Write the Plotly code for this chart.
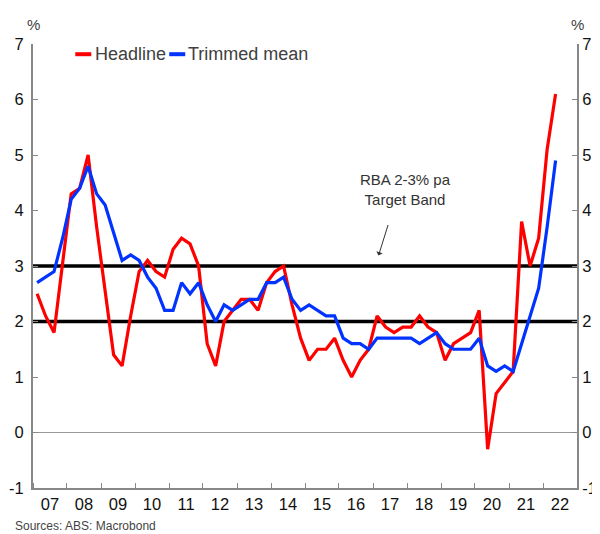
import pandas as pd
import plotly.graph_objects as go

# Quarterly, 2007 Q1 .. 2022 Q2, year-ended % change
quarters = pd.period_range("2007Q1", "2022Q2", freq="Q")
headline = [2.5, 2.1, 1.8, 3.0, 4.3, 4.4, 5.0, 3.7, 2.5, 1.4,
            1.2, 2.1, 2.9, 3.1, 2.9, 2.8, 3.3, 3.5, 3.4, 3.0,
            1.6, 1.2, 2.0, 2.2, 2.4, 2.4, 2.2, 2.7, 2.9, 3.0,
            2.3, 1.7, 1.3, 1.5, 1.5, 1.7, 1.3, 1.0, 1.3, 1.5,
            2.1, 1.9, 1.8, 1.9, 1.9, 2.1, 1.9, 1.8, 1.3, 1.6,
            1.7, 1.8, 2.2, -0.3, 0.7, 0.9, 1.1, 3.8, 3.0, 3.5,
            5.1, 6.1]
trimmed_mean = [2.7, 2.8, 2.9, 3.5, 4.2, 4.4, 4.8, 4.3, 4.1, 3.6,
                3.1, 3.2, 3.1, 2.8, 2.6, 2.2, 2.2, 2.7, 2.5, 2.7,
                2.3, 2.0, 2.3, 2.2, 2.3, 2.4, 2.4, 2.7, 2.7, 2.8,
                2.4, 2.2, 2.3, 2.2, 2.1, 2.1, 1.7, 1.6, 1.6, 1.5,
                1.7, 1.7, 1.7, 1.7, 1.7, 1.6, 1.7, 1.8, 1.6, 1.5,
                1.5, 1.5, 1.7, 1.2, 1.1, 1.2, 1.1, 1.6, 2.1, 2.6,
                3.7, 4.9]
band = [2, 3]
y_ticks = [-1, 0, 1, 2, 3, 4, 5, 6, 7]
y_labels = ["-1", "0", "1", "2", "3", "4", "5", "6", "7"]
series_names = ["Headline", "Trimmed mean"]
series_colors = ["#ff0000", "#0033ff"]

# plot each quarter at the middle of the quarter
dates = [(q.start_time + (q.end_time - q.start_time) / 2).strftime("%Y-%m-%d") for q in quarters]

FONT = "Liberation Sans, Arial, sans-serif"
TXT = "#111111"
LEG = "#404040"
AX = "#888888"

fig = go.Figure()
for vals, name, col in zip([headline, trimmed_mean], series_names, series_colors):
    fig.add_trace(go.Scatter(x=dates, y=vals, name=name, mode="lines",
                             line=dict(color=col, width=3.2), showlegend=False))
fig.add_trace(go.Scatter(x=dates[:1], y=headline[:1], yaxis="y2", mode="none",
                         showlegend=False, hoverinfo="skip"))

for b in band:
    fig.add_shape(type="line", xref="paper", x0=0, x1=1, yref="y", y0=b, y1=b,
                  line=dict(color="black", width=3.5), layer="below")

# legend (short swatches + labels), top-left inside plot
W = 544.3
H = 444.0
def px(sx):
    return (sx - 32.7) / W
def py(sy):
    return (487.8 - sy) / H

leg_y = py(54)
sw_left = [75, 169]
txt_left = [93, 186]
for name, col, sx, tx in zip(series_names, series_colors, sw_left, txt_left):
    fig.add_shape(type="line", xref="paper", yref="paper",
                  x0=px(sx), x1=px(sx + 16), y0=leg_y, y1=leg_y,
                  line=dict(color=col, width=4))
    fig.add_annotation(xref="paper", yref="paper", x=px(tx), y=leg_y, text=name,
                       showarrow=False, xanchor="left", yanchor="middle",
                       font=dict(family=FONT, size=18, color=LEG))

fig.add_annotation(x="2017-12-15", y=4.37, text="RBA 2-3% pa<br>Target Band",
                   showarrow=False, font=dict(family=FONT, size=15, color="#333333"))
fig.add_annotation(x="2017-03-01", y=3.19, ax=10, ay=-32, text="", showarrow=True,
                   arrowhead=1, arrowsize=1.1, arrowwidth=1, arrowcolor="#333333")

fig.add_annotation(xref="paper", yref="paper", x=0.0, y=py(24), text="%", showarrow=False,
                   xanchor="center", yanchor="middle", font=dict(family=FONT, size=15, color=LEG))
fig.add_annotation(xref="paper", yref="paper", x=1.0, y=py(24), text="%", showarrow=False,
                   xanchor="center", yanchor="middle", font=dict(family=FONT, size=15, color=LEG))
fig.add_annotation(xref="paper", yref="paper", x=px(14), y=py(526),
                   text="Sources: ABS: Macrobond", showarrow=False, xanchor="left",
                   yanchor="middle", xshift=-1,
                   font=dict(family=FONT, size=12, color="#444444"))

axis_common = dict(range=[-1, 7], tickvals=y_ticks, ticktext=y_labels, ticks="inside",
                   ticklen=5, tickcolor=AX, showline=True, linecolor=AX, linewidth=2,
                   showgrid=False, automargin=False,
                   tickfont=dict(family=FONT, size=16.5, color=TXT))

fig.update_layout(
    width=600, height=534,
    margin=dict(l=25, r=31, t=36, b=54),
    paper_bgcolor="white", plot_bgcolor="white",
    font=dict(family=FONT, color=TXT),
    showlegend=False,
    xaxis=dict(type="date", range=["2007-01-01", "2023-01-01"], dtick="M12",
               tick0="2007-01-01", tickformat="%y", ticklabelmode="period",
               ticks="inside", ticklen=5, tickcolor=AX, showline=True, linecolor=AX,
               linewidth=2, showgrid=False, zeroline=False, automargin=False,
               tickfont=dict(family=FONT, size=16.5, color=TXT)),
    yaxis=dict(side="left", zeroline=True, zerolinecolor="#999999", zerolinewidth=1,
               ticklabelstandoff=4, **axis_common),
    yaxis2=dict(side="right", overlaying="y", anchor="x", zeroline=False,
                ticklabelstandoff=0, **axis_common),
)

fig.write_html("out.html")
